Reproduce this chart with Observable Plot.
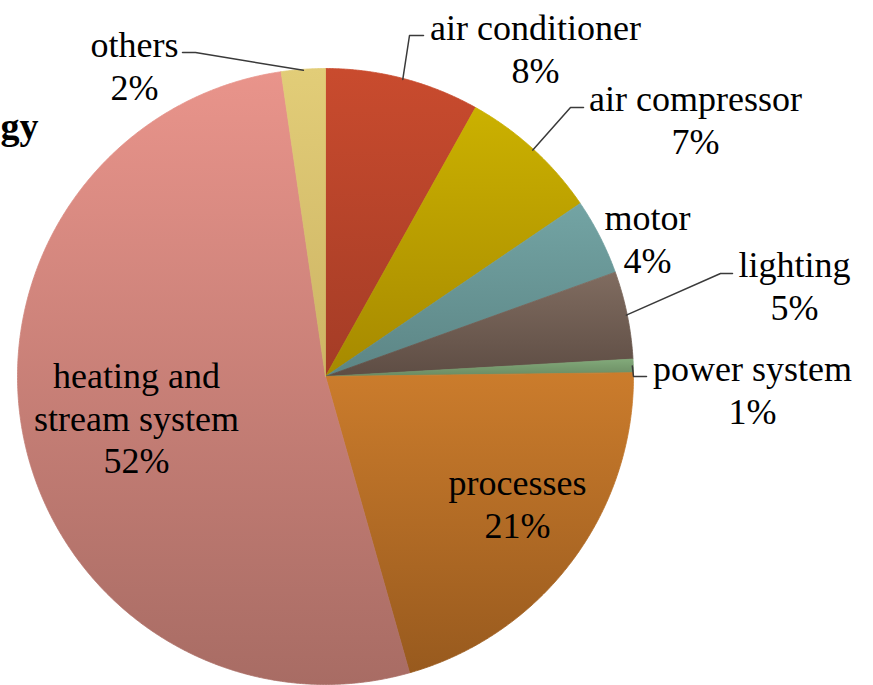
<!DOCTYPE html>
<html><head><meta charset="utf-8">
<script src="https://cdn.jsdelivr.net/npm/d3@7"></script>
<script src="https://cdn.jsdelivr.net/npm/@observablehq/plot@0.6"></script>
<style>body{margin:0;background:#fff;overflow:hidden} svg text{font-family:"Liberation Serif","DejaVu Serif",serif}</style>
</head><body><div id="chart"></div>
<script>
// ---- data ----
const categories = ["air conditioner", "air compressor", "motor", "lighting", "power system", "processes", "heating and stream system", "others"];
const values = [8.1, 7.4, 4.0, 4.6, 0.7, 20.8, 52.1, 2.3];
const percentLabels = ["8%", "7%", "4%", "5%", "1%", "21%", "52%", "2%"];
const labelLines = ["air conditioner", "air compressor", "motor", "lighting", "power system", "processes", "heating and\nstream system", "others"];
const topColors = ["#c94b2e", "#cbb100", "#73a4a4", "#806c60", "#82aa7a", "#cb7c2c", "#e9948b", "#e2cd78"];
const bottomColors = ["#a43c26", "#a68900", "#5c8585", "#5e4d44", "#6a8a62", "#985a1e", "#a86c64", "#cdb464"];
const titleText = "gy";

// ---- layout ----
const W = 873, H = 685, CX = 325, CY = 376, R = 308;
const FS = 36, LH = 1.18;
const FONT = "Liberation Serif, DejaVu Serif, serif";
// label centre x and first-line baseline y
const labelX = [535, 695, 647, 794, 752, 517, 136, 134];
const labelBase = [35, 106, 225, 272, 376, 490, 383, 52];
// leader elbows: [elbow, end] or null
const leaderElbow = [[[409, 35], [423, 35]], [[570, 107], [583, 107]], null, [[720, 273], [732, 273]], [[633, 376], [646, 376]], null, null, [[195, 52], [182, 52]]];

const arcs = d3.pie().sort(null).value(d => d)(values);
const pt = (a, r) => ({x: CX + r * Math.sin(a), y: CY - r * Math.cos(a)});

const sliceMarks = arcs.map((a, i) => {
  const n = Math.max(4, Math.ceil((a.endAngle - a.startAngle) / 0.005));
  const pts = [{x: CX, y: CY}];
  for (let k = 0; k <= n; k++) pts.push(pt(a.startAngle + (a.endAngle - a.startAngle) * k / n, R));
  pts.push({x: CX, y: CY});
  return Plot.line(pts, {x: "x", y: "y", fill: `url(#grad${i})`, stroke: `url(#grad${i})`, strokeWidth: 0.8});
});

const leaderMarks = arcs.map((a, i) => {
  if (!leaderElbow[i]) return null;
  const mid = (a.startAngle + a.endAngle) / 2;
  const pts = [pt(mid, R - 1), {x: leaderElbow[i][0][0], y: leaderElbow[i][0][1]}, {x: leaderElbow[i][1][0], y: leaderElbow[i][1][1]}];
  return Plot.line(pts, {x: "x", y: "y", stroke: "#3a3a3a", strokeWidth: 1.5});
}).filter(Boolean);

const labels = categories.map((c, i) => ({
  x: labelX[i],
  y: labelBase[i] - 0.71 * FS,
  text: labelLines[i] + "\n" + percentLabels[i]
}));

const defs = () => {
  const d = d3.create("svg:defs");
  topColors.forEach((c, i) => {
    const g = d.append("linearGradient").attr("id", `grad${i}`).attr("x1", 0).attr("y1", 0).attr("x2", 0).attr("y2", 1);
    g.append("stop").attr("offset", "0%").attr("stop-color", c);
    g.append("stop").attr("offset", "100%").attr("stop-color", bottomColors[i]);
  });
  return d.node();
};

const chart = Plot.plot({
  width: W, height: H, margin: 0,
  style: {background: "#fff"},
  x: {domain: [0, W], range: [0, W], axis: null},
  y: {domain: [0, H], range: [0, H], axis: null},
  marks: [
    defs,
    ...sliceMarks,
    ...leaderMarks,
    Plot.text(labels, {x: "x", y: "y", text: "text", lineAnchor: "top", lineHeight: LH, textAnchor: "middle",
      fontFamily: FONT, fontSize: FS, fill: "#000"}),
    Plot.text([{x: 0, y: 138 - 0.71 * 38, t: titleText}], {x: "x", y: "y", text: "t", lineAnchor: "top", textAnchor: "start",
      fontFamily: FONT, fontSize: 38, fontWeight: "bold", fill: "#000"})
  ]
});
document.getElementById("chart").appendChild(chart);
</script>
</body></html>
